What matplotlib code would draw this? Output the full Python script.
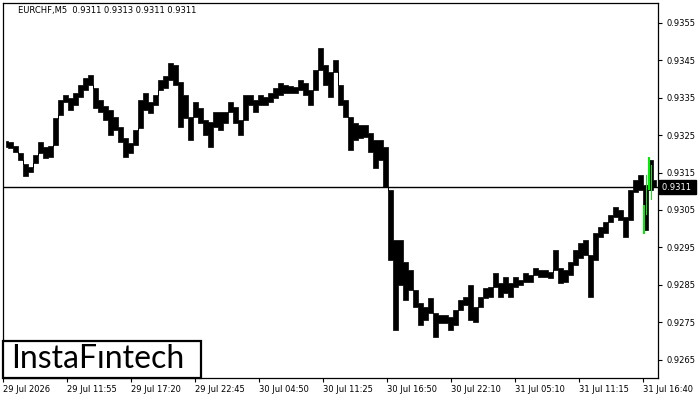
import matplotlib
matplotlib.use("Agg")
import matplotlib.pyplot as plt
import matplotlib.transforms as mtransforms
from matplotlib.patches import Rectangle
import numpy as np

bar_high = [
    0.93234, 0.93232, 0.93221, 0.93202, 0.93173, 0.93165, 0.93197, 0.93232, 0.93218, 0.93221,
    0.93296, 0.93344, 0.93357, 0.93349, 0.93362, 0.93384, 0.93402, 0.93410, 0.93376, 0.93344,
    0.93328, 0.93317, 0.93298, 0.93272, 0.93242, 0.93229, 0.93264, 0.93344, 0.93362, 0.93338,
    0.93357, 0.93397, 0.93408, 0.93442, 0.93437, 0.93392, 0.93357, 0.93298, 0.93338, 0.93322,
    0.93290, 0.93285, 0.93312, 0.93312, 0.93312, 0.93338, 0.93325, 0.93290, 0.93357, 0.93357,
    0.93344, 0.93357, 0.93352, 0.93362, 0.93376, 0.93389, 0.93384, 0.93381, 0.93378, 0.93397,
    0.93389, 0.93370, 0.93424, 0.93482, 0.93437, 0.93418, 0.93450, 0.93384, 0.93344, 0.93298,
    0.93282, 0.93277, 0.93277, 0.93256, 0.93237, 0.93237, 0.93218, 0.93103, 0.92970, 0.92970,
    0.92911, 0.92890, 0.92836, 0.92802, 0.92791, 0.92815, 0.92775, 0.92770, 0.92770, 0.92764,
    0.92783, 0.92810, 0.92818, 0.92850, 0.92791, 0.92818, 0.92842, 0.92844, 0.92882, 0.92855,
    0.92871, 0.92855, 0.92871, 0.92863, 0.92882, 0.92876, 0.92895, 0.92890, 0.92890, 0.92884,
    0.92943, 0.92895, 0.92890, 0.92911, 0.92943, 0.92962, 0.92970, 0.92930, 0.92989, 0.93005,
    0.93018, 0.93037, 0.93058, 0.93050, 0.93031, 0.93103, 0.93130, 0.93143, 0.93117, 0.93183,
    0.93130,
]
bar_low = [
    0.93218, 0.93215, 0.93205, 0.93183, 0.93141, 0.93151, 0.93175, 0.93202, 0.93189, 0.93191,
    0.93223, 0.93304, 0.93338, 0.93317, 0.93330, 0.93352, 0.93370, 0.93384, 0.93322, 0.93312,
    0.93290, 0.93250, 0.93264, 0.93232, 0.93191, 0.93202, 0.93223, 0.93269, 0.93317, 0.93309,
    0.93330, 0.93370, 0.93376, 0.93397, 0.93384, 0.93272, 0.93296, 0.93237, 0.93298, 0.93282,
    0.93250, 0.93218, 0.93272, 0.93264, 0.93282, 0.93312, 0.93282, 0.93250, 0.93290, 0.93330,
    0.93312, 0.93330, 0.93330, 0.93338, 0.93349, 0.93357, 0.93362, 0.93362, 0.93362, 0.93370,
    0.93357, 0.93330, 0.93370, 0.93424, 0.93384, 0.93352, 0.93418, 0.93330, 0.93298, 0.93210,
    0.93237, 0.93242, 0.93245, 0.93205, 0.93162, 0.93183, 0.93111, 0.92916, 0.92730, 0.92850,
    0.92810, 0.92836, 0.92791, 0.92743, 0.92756, 0.92775, 0.92711, 0.92748, 0.92748, 0.92730,
    0.92743, 0.92783, 0.92796, 0.92756, 0.92751, 0.92791, 0.92815, 0.92818, 0.92844, 0.92818,
    0.92828, 0.92818, 0.92844, 0.92850, 0.92858, 0.92858, 0.92876, 0.92871, 0.92871, 0.92868,
    0.92890, 0.92855, 0.92858, 0.92876, 0.92903, 0.92922, 0.92930, 0.92818, 0.92916, 0.92978,
    0.92989, 0.93018, 0.93031, 0.93023, 0.92978, 0.93023, 0.93098, 0.93103, 0.92997, 0.93103,
    0.93111,
]

# highlighted (green) pattern bars at the right edge
pattern_pos = [127.7, 128.2, 128.7, 129.2]
pattern_high = [0.93064, 0.93143, 0.93191, 0.93170]
pattern_low = [0.92987, 0.93037, 0.93103, 0.93077]

last_price = 0.9311
title_text = "EURCHF,M5  0.9311 0.9313 0.9311 0.9311"

price_ticks = [0.9265, 0.9275, 0.9285, 0.9295, 0.9305, 0.9315, 0.9325, 0.9335, 0.9345, 0.9355]
time_labels = ["29 Jul 2026", "29 Jul 11:55", "29 Jul 17:20", "29 Jul 22:45", "30 Jul 04:50",
               "30 Jul 11:25", "30 Jul 16:50", "30 Jul 22:10", "31 Jul 05:10", "31 Jul 11:15",
               "31 Jul 16:40"]

plt.rcParams["font.family"] = ["DejaVu Sans"]

fig = plt.figure(figsize=(7, 4), dpi=100)
fig.patch.set_facecolor("white")
ax = fig.add_axes([3 / 700, 22 / 400, 655 / 700, 375 / 400])

hi = np.array(bar_high)
lo = np.array(bar_low)
x = np.arange(len(hi))
# dense 1px bars in the original -> continuous stepped band here
ax.fill_between(x, lo, hi, step="mid", facecolor="black", edgecolor="black", linewidth=0.5)

ph = np.array(pattern_high)
pl = np.array(pattern_low)
ax.bar(pattern_pos, ph - pl, bottom=pl, width=0.35, color="#00ee00", linewidth=0, zorder=3)

ax.axhline(last_price, color="black", linewidth=1.0, zorder=2)

ax.set_xlim(-0.5, 130.5)
ax.set_ylim(0.926013, 0.936026)

# axes ticks
ax.yaxis.tick_right()
ax.set_yticks(price_ticks)
ax.set_yticklabels(["%.4f" % v for v in price_ticks])
tick_pos = [-0.5 + 12.8 * k for k in range(len(time_labels))]
ax.set_xticks(tick_pos)
ax.set_xticklabels(time_labels, ha="left")
ax.tick_params(axis="x", direction="out", length=3, width=0.8, pad=2, labelsize=6, colors="black")
ax.tick_params(axis="y", direction="out", length=3, width=0.8, pad=3, labelsize=6, colors="black")
for sp in ax.spines.values():
    sp.set_linewidth(0.9)
    sp.set_color("black")

# current price marker on the price scale
trans = mtransforms.blended_transform_factory(ax.transAxes, ax.transData)
ax.text(1.006, last_price, "0.9311 ", transform=trans, ha="left", va="center",
        fontsize=6, color="white",
        bbox=dict(boxstyle="square,pad=0.3", facecolor="black", edgecolor="black"),
        clip_on=False, zorder=5)

fig.text(18 / 700, 1 - 10 / 400, title_text, fontsize=6, ha="left", va="center", color="black")

# logo box
fig.patches.append(Rectangle((3 / 700, 22 / 400), 198 / 700, 37 / 400, transform=fig.transFigure,
                             facecolor="white", edgecolor="black", linewidth=1.6, zorder=10))
fig.text(98 / 700, 1 - 359 / 400, "InstaF\u0131ntech", fontsize=23, family="Lato",
         ha="center", va="center", color="black", zorder=11)

fig.savefig("out.png", dpi=100)
